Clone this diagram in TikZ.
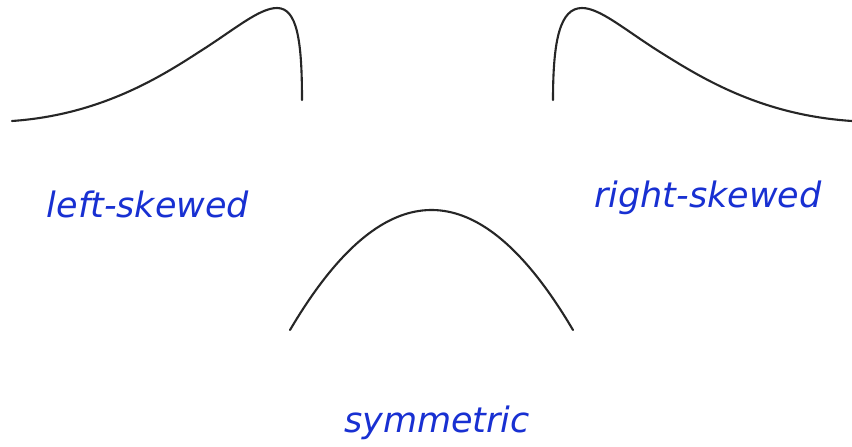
\documentclass[tikz,border=0pt]{standalone}
\usepackage{fontspec}
\setmainfont{DejaVu Sans}
\definecolor{lblblue}{RGB}{24,48,210}
\begin{document}
\begin{tikzpicture}[x=1pt,y=-1pt,
  curve/.style={line width=2.1pt,black!85,line cap=round,line join=round},
  lbl/.style={text=lblblue,font=\fontsize{35}{40}\selectfont\itshape,anchor=base,inner sep=0pt}]
\useasboundingbox[fill=white] (0,0) rectangle (852,447);
% left-skewed
\draw[curve] (302,100) .. controls (302,40) and (297,8) .. (277,8)
  .. controls (259,8) and (234,30) .. (199,52)
  .. controls (159,78) and (99,115) .. (12,121);
% right-skewed
\draw[curve] (553,100) .. controls (553,40) and (560,8) .. (582,8)
  .. controls (600,8) and (625,30) .. (660,52)
  .. controls (700,77) and (760,115) .. (852,121);
% symmetric
\draw[curve] plot[domain=290:573,samples=80] (\x,{210+120*((\x-431.5)/141.5)^2});
\node[lbl] (ls) at (148,217) {left-skewed};
\node[lbl] (rs) at (708,207) {right-skewed};
\node[lbl] (sy) at (437,432) {symmetric};
\end{tikzpicture}
\end{document}
